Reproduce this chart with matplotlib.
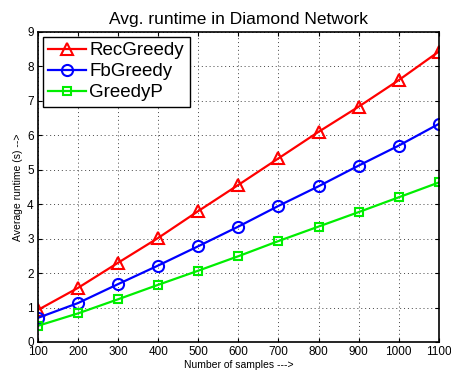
import matplotlib
matplotlib.use('Agg')
import matplotlib.pyplot as plt
import numpy as np

plt.rcParams['font.family'] = ['Liberation Sans', 'DejaVu Sans']

samples = [100, 200, 300, 400, 500, 600, 700, 800, 900, 1000, 1100]
rec_greedy = [0.93, 1.57, 2.3, 3.02, 3.8, 4.56, 5.33, 6.1, 6.83, 7.6, 8.43]
fb_greedy = [0.7, 1.13, 1.68, 2.22, 2.78, 3.35, 3.95, 4.52, 5.12, 5.7, 6.33]
greedy_p = [0.47, 0.83, 1.24, 1.66, 2.07, 2.49, 2.93, 3.35, 3.77, 4.2, 4.63]

fig = plt.figure(figsize=(4.51, 3.80), dpi=100)
ax = fig.add_axes([0.084, 0.1, 0.889, 0.816])

ax.plot(samples, rec_greedy, color='#ff0000', marker='^', markersize=9,
        markerfacecolor='none', markeredgewidth=1.5, linewidth=1.6, label='RecGreedy')
ax.plot(samples, fb_greedy, color='#0000ff', marker='o', markersize=8,
        markerfacecolor='none', markeredgewidth=1.5, linewidth=1.6, label='FbGreedy')
ax.plot(samples, greedy_p, color='#00ee00', marker='s', markersize=6,
        markerfacecolor='none', markeredgewidth=1.5, linewidth=1.6, label='GreedyP')

ax.set_xlim(100, 1100)
ax.set_ylim(0, 9)
ax.set_xticks(samples)
ax.set_yticks(range(0, 10))
ax.tick_params(labelsize=8.5, direction='in', length=3, top=True, right=True, pad=3)
ax.grid(True, linestyle=(0, (1, 3)), color='#444444', linewidth=0.7)
for s in ax.spines.values():
    s.set_linewidth(1.2)

ax.set_title('Avg. runtime in Diamond Network', fontsize=12.5)
ax.set_xlabel('Number of samples --->', fontsize=7.5, labelpad=1)
ax.set_ylabel('Average runtime (s) -->', fontsize=7.5, labelpad=3)

leg = ax.legend(loc='upper left', fontsize=13.5, fancybox=False, framealpha=1,
                edgecolor='black', handlelength=2.0, borderpad=0.3,
                labelspacing=0.2, handletextpad=0.2, borderaxespad=0.25)
leg.get_frame().set_linewidth(1.0)

plt.savefig('out.png', dpi=100)
